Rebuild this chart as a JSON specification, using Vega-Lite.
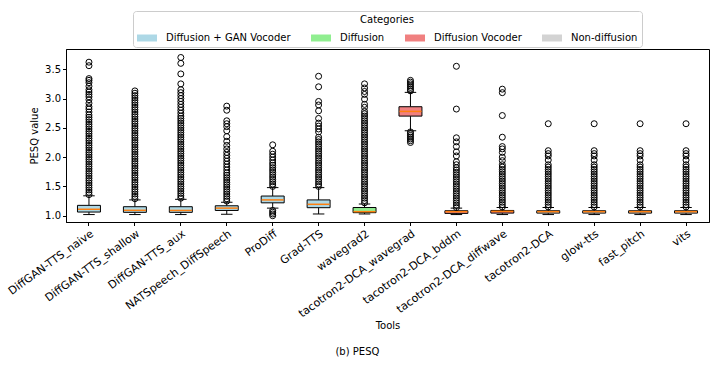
{
  "$schema": "https://vega.github.io/schema/vega-lite/v6.json",
  "autosize": {"type": "none"},
  "width": 643,
  "height": 173,
  "padding": {"left": 66, "top": 49, "right": 11, "bottom": 154},
  "title": {"text": "(b) PESQ", "orient": "bottom", "anchor": "middle", "frame": "bounds", "fontSize": 10, "fontWeight": "normal", "offset": 16, "color": "black"},
  "config": {
    "font": "DejaVu Sans",
    "view": {"stroke": "black", "strokeWidth": 1},
    "axis": {"domainColor": "black", "tickColor": "black", "labelColor": "black", "titleColor": "black", "labelFontSize": 10, "titleFontSize": 10, "titleFontWeight": "normal", "grid": false, "tickSize": 3.5, "labelPadding": 2, "labelOverlap": false}
  },
  "datasets": {
    "boxes": [
      {"tool": "DiffGAN-TTS_naive", "cat": "Diffusion + GAN Vocoder", "lo": 1.02, "q1": 1.063, "med": 1.11, "q3": 1.177, "hi": 1.34},
      {"tool": "DiffGAN-TTS_shallow", "cat": "Diffusion + GAN Vocoder", "lo": 1.02, "q1": 1.058, "med": 1.092, "q3": 1.154, "hi": 1.27},
      {"tool": "DiffGAN-TTS_aux", "cat": "Diffusion + GAN Vocoder", "lo": 1.02, "q1": 1.058, "med": 1.09, "q3": 1.154, "hi": 1.28},
      {"tool": "NATSpeech_DiffSpeech", "cat": "Diffusion + GAN Vocoder", "lo": 1.025, "q1": 1.09, "med": 1.13, "q3": 1.17, "hi": 1.23},
      {"tool": "ProDiff", "cat": "Diffusion + GAN Vocoder", "lo": 1.13, "q1": 1.22, "med": 1.27, "q3": 1.336, "hi": 1.48},
      {"tool": "Grad-TTS", "cat": "Diffusion + GAN Vocoder", "lo": 1.03, "q1": 1.137, "med": 1.195, "q3": 1.27, "hi": 1.48},
      {"tool": "wavegrad2", "cat": "Diffusion", "lo": 1.03, "q1": 1.052, "med": 1.07, "q3": 1.14, "hi": 1.2},
      {"tool": "tacotron2-DCA_wavegrad", "cat": "Diffusion Vocoder", "lo": 2.45, "q1": 2.7, "med": 2.78, "q3": 2.86, "hi": 3.105},
      {"tool": "tacotron2-DCA_bddm", "cat": "Diffusion Vocoder", "lo": 1.02, "q1": 1.04, "med": 1.07, "q3": 1.085, "hi": 1.13},
      {"tool": "tacotron2-DCA_diffwave", "cat": "Diffusion Vocoder", "lo": 1.02, "q1": 1.045, "med": 1.075, "q3": 1.09, "hi": 1.14},
      {"tool": "tacotron2-DCA", "cat": "Non-diffusion", "lo": 1.02, "q1": 1.045, "med": 1.07, "q3": 1.085, "hi": 1.14},
      {"tool": "glow-tts", "cat": "Non-diffusion", "lo": 1.02, "q1": 1.045, "med": 1.07, "q3": 1.085, "hi": 1.14},
      {"tool": "fast_pitch", "cat": "Non-diffusion", "lo": 1.02, "q1": 1.045, "med": 1.07, "q3": 1.085, "hi": 1.14},
      {"tool": "vits", "cat": "Non-diffusion", "lo": 1.02, "q1": 1.045, "med": 1.07, "q3": 1.085, "hi": 1.14}
    ],
    "outliers": [
      {"tool": "DiffGAN-TTS_naive", "v": 1.36}, {"tool": "DiffGAN-TTS_naive", "v": 1.40}, {"tool": "DiffGAN-TTS_naive", "v": 1.44}, {"tool": "DiffGAN-TTS_naive", "v": 1.48}, {"tool": "DiffGAN-TTS_naive", "v": 1.52}, {"tool": "DiffGAN-TTS_naive", "v": 1.56}, {"tool": "DiffGAN-TTS_naive", "v": 1.60}, {"tool": "DiffGAN-TTS_naive", "v": 1.64}, {"tool": "DiffGAN-TTS_naive", "v": 1.68}, {"tool": "DiffGAN-TTS_naive", "v": 1.72}, {"tool": "DiffGAN-TTS_naive", "v": 1.76}, {"tool": "DiffGAN-TTS_naive", "v": 1.80}, {"tool": "DiffGAN-TTS_naive", "v": 1.84}, {"tool": "DiffGAN-TTS_naive", "v": 1.88}, {"tool": "DiffGAN-TTS_naive", "v": 1.92}, {"tool": "DiffGAN-TTS_naive", "v": 1.96}, {"tool": "DiffGAN-TTS_naive", "v": 2.00}, {"tool": "DiffGAN-TTS_naive", "v": 2.04}, {"tool": "DiffGAN-TTS_naive", "v": 2.08}, {"tool": "DiffGAN-TTS_naive", "v": 2.12}, {"tool": "DiffGAN-TTS_naive", "v": 2.16}, {"tool": "DiffGAN-TTS_naive", "v": 2.20}, {"tool": "DiffGAN-TTS_naive", "v": 2.24}, {"tool": "DiffGAN-TTS_naive", "v": 2.28}, {"tool": "DiffGAN-TTS_naive", "v": 2.32}, {"tool": "DiffGAN-TTS_naive", "v": 2.36}, {"tool": "DiffGAN-TTS_naive", "v": 2.40}, {"tool": "DiffGAN-TTS_naive", "v": 2.44}, {"tool": "DiffGAN-TTS_naive", "v": 2.48}, {"tool": "DiffGAN-TTS_naive", "v": 2.52}, {"tool": "DiffGAN-TTS_naive", "v": 2.56}, {"tool": "DiffGAN-TTS_naive", "v": 2.60}, {"tool": "DiffGAN-TTS_naive", "v": 2.64}, {"tool": "DiffGAN-TTS_naive", "v": 2.68},
      {"tool": "DiffGAN-TTS_naive", "v": 2.72}, {"tool": "DiffGAN-TTS_naive", "v": 2.77}, {"tool": "DiffGAN-TTS_naive", "v": 2.82}, {"tool": "DiffGAN-TTS_naive", "v": 2.86}, {"tool": "DiffGAN-TTS_naive", "v": 2.92}, {"tool": "DiffGAN-TTS_naive", "v": 2.98}, {"tool": "DiffGAN-TTS_naive", "v": 3.03}, {"tool": "DiffGAN-TTS_naive", "v": 3.07}, {"tool": "DiffGAN-TTS_naive", "v": 3.11}, {"tool": "DiffGAN-TTS_naive", "v": 3.15}, {"tool": "DiffGAN-TTS_naive", "v": 3.21}, {"tool": "DiffGAN-TTS_naive", "v": 3.27}, {"tool": "DiffGAN-TTS_naive", "v": 3.31}, {"tool": "DiffGAN-TTS_naive", "v": 3.34}, {"tool": "DiffGAN-TTS_naive", "v": 3.56}, {"tool": "DiffGAN-TTS_naive", "v": 3.62},

      {"tool": "DiffGAN-TTS_shallow", "v": 1.29}, {"tool": "DiffGAN-TTS_shallow", "v": 1.33}, {"tool": "DiffGAN-TTS_shallow", "v": 1.37}, {"tool": "DiffGAN-TTS_shallow", "v": 1.41}, {"tool": "DiffGAN-TTS_shallow", "v": 1.45}, {"tool": "DiffGAN-TTS_shallow", "v": 1.49}, {"tool": "DiffGAN-TTS_shallow", "v": 1.53}, {"tool": "DiffGAN-TTS_shallow", "v": 1.57}, {"tool": "DiffGAN-TTS_shallow", "v": 1.61}, {"tool": "DiffGAN-TTS_shallow", "v": 1.65}, {"tool": "DiffGAN-TTS_shallow", "v": 1.69}, {"tool": "DiffGAN-TTS_shallow", "v": 1.73}, {"tool": "DiffGAN-TTS_shallow", "v": 1.77}, {"tool": "DiffGAN-TTS_shallow", "v": 1.81}, {"tool": "DiffGAN-TTS_shallow", "v": 1.85}, {"tool": "DiffGAN-TTS_shallow", "v": 1.89}, {"tool": "DiffGAN-TTS_shallow", "v": 1.93}, {"tool": "DiffGAN-TTS_shallow", "v": 1.97}, {"tool": "DiffGAN-TTS_shallow", "v": 2.01}, {"tool": "DiffGAN-TTS_shallow", "v": 2.05}, {"tool": "DiffGAN-TTS_shallow", "v": 2.09}, {"tool": "DiffGAN-TTS_shallow", "v": 2.13}, {"tool": "DiffGAN-TTS_shallow", "v": 2.17}, {"tool": "DiffGAN-TTS_shallow", "v": 2.21}, {"tool": "DiffGAN-TTS_shallow", "v": 2.25}, {"tool": "DiffGAN-TTS_shallow", "v": 2.29}, {"tool": "DiffGAN-TTS_shallow", "v": 2.33}, {"tool": "DiffGAN-TTS_shallow", "v": 2.37}, {"tool": "DiffGAN-TTS_shallow", "v": 2.41}, {"tool": "DiffGAN-TTS_shallow", "v": 2.45}, {"tool": "DiffGAN-TTS_shallow", "v": 2.49}, {"tool": "DiffGAN-TTS_shallow", "v": 2.53}, {"tool": "DiffGAN-TTS_shallow", "v": 2.57}, {"tool": "DiffGAN-TTS_shallow", "v": 2.61}, {"tool": "DiffGAN-TTS_shallow", "v": 2.65}, {"tool": "DiffGAN-TTS_shallow", "v": 2.69}, {"tool": "DiffGAN-TTS_shallow", "v": 2.73}, {"tool": "DiffGAN-TTS_shallow", "v": 2.77}, {"tool": "DiffGAN-TTS_shallow", "v": 2.81}, {"tool": "DiffGAN-TTS_shallow", "v": 2.85}, {"tool": "DiffGAN-TTS_shallow", "v": 2.89}, {"tool": "DiffGAN-TTS_shallow", "v": 2.93}, {"tool": "DiffGAN-TTS_shallow", "v": 2.97}, {"tool": "DiffGAN-TTS_shallow", "v": 3.01}, {"tool": "DiffGAN-TTS_shallow", "v": 3.05}, {"tool": "DiffGAN-TTS_shallow", "v": 3.09}, {"tool": "DiffGAN-TTS_shallow", "v": 3.13},

      {"tool": "DiffGAN-TTS_aux", "v": 1.30}, {"tool": "DiffGAN-TTS_aux", "v": 1.34}, {"tool": "DiffGAN-TTS_aux", "v": 1.38}, {"tool": "DiffGAN-TTS_aux", "v": 1.42}, {"tool": "DiffGAN-TTS_aux", "v": 1.46}, {"tool": "DiffGAN-TTS_aux", "v": 1.50}, {"tool": "DiffGAN-TTS_aux", "v": 1.54}, {"tool": "DiffGAN-TTS_aux", "v": 1.58}, {"tool": "DiffGAN-TTS_aux", "v": 1.62}, {"tool": "DiffGAN-TTS_aux", "v": 1.66}, {"tool": "DiffGAN-TTS_aux", "v": 1.70}, {"tool": "DiffGAN-TTS_aux", "v": 1.74}, {"tool": "DiffGAN-TTS_aux", "v": 1.78}, {"tool": "DiffGAN-TTS_aux", "v": 1.82}, {"tool": "DiffGAN-TTS_aux", "v": 1.86}, {"tool": "DiffGAN-TTS_aux", "v": 1.90}, {"tool": "DiffGAN-TTS_aux", "v": 1.94}, {"tool": "DiffGAN-TTS_aux", "v": 1.98}, {"tool": "DiffGAN-TTS_aux", "v": 2.02}, {"tool": "DiffGAN-TTS_aux", "v": 2.06}, {"tool": "DiffGAN-TTS_aux", "v": 2.10}, {"tool": "DiffGAN-TTS_aux", "v": 2.14}, {"tool": "DiffGAN-TTS_aux", "v": 2.18}, {"tool": "DiffGAN-TTS_aux", "v": 2.22}, {"tool": "DiffGAN-TTS_aux", "v": 2.26}, {"tool": "DiffGAN-TTS_aux", "v": 2.30}, {"tool": "DiffGAN-TTS_aux", "v": 2.34}, {"tool": "DiffGAN-TTS_aux", "v": 2.38}, {"tool": "DiffGAN-TTS_aux", "v": 2.42}, {"tool": "DiffGAN-TTS_aux", "v": 2.46}, {"tool": "DiffGAN-TTS_aux", "v": 2.50}, {"tool": "DiffGAN-TTS_aux", "v": 2.54}, {"tool": "DiffGAN-TTS_aux", "v": 2.58}, {"tool": "DiffGAN-TTS_aux", "v": 2.62},
      {"tool": "DiffGAN-TTS_aux", "v": 2.66}, {"tool": "DiffGAN-TTS_aux", "v": 2.70}, {"tool": "DiffGAN-TTS_aux", "v": 2.75}, {"tool": "DiffGAN-TTS_aux", "v": 2.80}, {"tool": "DiffGAN-TTS_aux", "v": 2.85}, {"tool": "DiffGAN-TTS_aux", "v": 2.90}, {"tool": "DiffGAN-TTS_aux", "v": 2.95}, {"tool": "DiffGAN-TTS_aux", "v": 3.00}, {"tool": "DiffGAN-TTS_aux", "v": 3.05}, {"tool": "DiffGAN-TTS_aux", "v": 3.10}, {"tool": "DiffGAN-TTS_aux", "v": 3.15}, {"tool": "DiffGAN-TTS_aux", "v": 3.25}, {"tool": "DiffGAN-TTS_aux", "v": 3.42}, {"tool": "DiffGAN-TTS_aux", "v": 3.60}, {"tool": "DiffGAN-TTS_aux", "v": 3.70},

      {"tool": "NATSpeech_DiffSpeech", "v": 1.25}, {"tool": "NATSpeech_DiffSpeech", "v": 1.29}, {"tool": "NATSpeech_DiffSpeech", "v": 1.33}, {"tool": "NATSpeech_DiffSpeech", "v": 1.37}, {"tool": "NATSpeech_DiffSpeech", "v": 1.41}, {"tool": "NATSpeech_DiffSpeech", "v": 1.45}, {"tool": "NATSpeech_DiffSpeech", "v": 1.49}, {"tool": "NATSpeech_DiffSpeech", "v": 1.53}, {"tool": "NATSpeech_DiffSpeech", "v": 1.57}, {"tool": "NATSpeech_DiffSpeech", "v": 1.61}, {"tool": "NATSpeech_DiffSpeech", "v": 1.65}, {"tool": "NATSpeech_DiffSpeech", "v": 1.69}, {"tool": "NATSpeech_DiffSpeech", "v": 1.73}, {"tool": "NATSpeech_DiffSpeech", "v": 1.78}, {"tool": "NATSpeech_DiffSpeech", "v": 1.83}, {"tool": "NATSpeech_DiffSpeech", "v": 1.88}, {"tool": "NATSpeech_DiffSpeech", "v": 1.93}, {"tool": "NATSpeech_DiffSpeech", "v": 1.98}, {"tool": "NATSpeech_DiffSpeech", "v": 2.03}, {"tool": "NATSpeech_DiffSpeech", "v": 2.08}, {"tool": "NATSpeech_DiffSpeech", "v": 2.14}, {"tool": "NATSpeech_DiffSpeech", "v": 2.20}, {"tool": "NATSpeech_DiffSpeech", "v": 2.27}, {"tool": "NATSpeech_DiffSpeech", "v": 2.35}, {"tool": "NATSpeech_DiffSpeech", "v": 2.45}, {"tool": "NATSpeech_DiffSpeech", "v": 2.52}, {"tool": "NATSpeech_DiffSpeech", "v": 2.57}, {"tool": "NATSpeech_DiffSpeech", "v": 2.62}, {"tool": "NATSpeech_DiffSpeech", "v": 2.80}, {"tool": "NATSpeech_DiffSpeech", "v": 2.87},

      {"tool": "ProDiff", "v": 1.00}, {"tool": "ProDiff", "v": 1.03}, {"tool": "ProDiff", "v": 1.06}, {"tool": "ProDiff", "v": 1.09},
      {"tool": "ProDiff", "v": 1.50}, {"tool": "ProDiff", "v": 1.54}, {"tool": "ProDiff", "v": 1.58}, {"tool": "ProDiff", "v": 1.62}, {"tool": "ProDiff", "v": 1.66}, {"tool": "ProDiff", "v": 1.70}, {"tool": "ProDiff", "v": 1.74}, {"tool": "ProDiff", "v": 1.78}, {"tool": "ProDiff", "v": 1.82}, {"tool": "ProDiff", "v": 1.86}, {"tool": "ProDiff", "v": 1.90}, {"tool": "ProDiff", "v": 1.95}, {"tool": "ProDiff", "v": 2.00}, {"tool": "ProDiff", "v": 2.05}, {"tool": "ProDiff", "v": 2.10}, {"tool": "ProDiff", "v": 2.21},

      {"tool": "Grad-TTS", "v": 1.50}, {"tool": "Grad-TTS", "v": 1.54}, {"tool": "Grad-TTS", "v": 1.58}, {"tool": "Grad-TTS", "v": 1.62}, {"tool": "Grad-TTS", "v": 1.66}, {"tool": "Grad-TTS", "v": 1.70}, {"tool": "Grad-TTS", "v": 1.74}, {"tool": "Grad-TTS", "v": 1.78}, {"tool": "Grad-TTS", "v": 1.82}, {"tool": "Grad-TTS", "v": 1.86}, {"tool": "Grad-TTS", "v": 1.90}, {"tool": "Grad-TTS", "v": 1.94}, {"tool": "Grad-TTS", "v": 1.98}, {"tool": "Grad-TTS", "v": 2.02}, {"tool": "Grad-TTS", "v": 2.06}, {"tool": "Grad-TTS", "v": 2.10}, {"tool": "Grad-TTS", "v": 2.14}, {"tool": "Grad-TTS", "v": 2.18}, {"tool": "Grad-TTS", "v": 2.22}, {"tool": "Grad-TTS", "v": 2.26}, {"tool": "Grad-TTS", "v": 2.30}, {"tool": "Grad-TTS", "v": 2.34}, {"tool": "Grad-TTS", "v": 2.43}, {"tool": "Grad-TTS", "v": 2.48}, {"tool": "Grad-TTS", "v": 2.53}, {"tool": "Grad-TTS", "v": 2.58}, {"tool": "Grad-TTS", "v": 2.66}, {"tool": "Grad-TTS", "v": 2.79}, {"tool": "Grad-TTS", "v": 2.89}, {"tool": "Grad-TTS", "v": 2.95}, {"tool": "Grad-TTS", "v": 3.20}, {"tool": "Grad-TTS", "v": 3.38},

      {"tool": "wavegrad2", "v": 1.22}, {"tool": "wavegrad2", "v": 1.26}, {"tool": "wavegrad2", "v": 1.30}, {"tool": "wavegrad2", "v": 1.34}, {"tool": "wavegrad2", "v": 1.38}, {"tool": "wavegrad2", "v": 1.42}, {"tool": "wavegrad2", "v": 1.46}, {"tool": "wavegrad2", "v": 1.50}, {"tool": "wavegrad2", "v": 1.54}, {"tool": "wavegrad2", "v": 1.58}, {"tool": "wavegrad2", "v": 1.62}, {"tool": "wavegrad2", "v": 1.66}, {"tool": "wavegrad2", "v": 1.70}, {"tool": "wavegrad2", "v": 1.74}, {"tool": "wavegrad2", "v": 1.78}, {"tool": "wavegrad2", "v": 1.82}, {"tool": "wavegrad2", "v": 1.86}, {"tool": "wavegrad2", "v": 1.90}, {"tool": "wavegrad2", "v": 1.94}, {"tool": "wavegrad2", "v": 1.98}, {"tool": "wavegrad2", "v": 2.02}, {"tool": "wavegrad2", "v": 2.06}, {"tool": "wavegrad2", "v": 2.10}, {"tool": "wavegrad2", "v": 2.14}, {"tool": "wavegrad2", "v": 2.18}, {"tool": "wavegrad2", "v": 2.22}, {"tool": "wavegrad2", "v": 2.26}, {"tool": "wavegrad2", "v": 2.30}, {"tool": "wavegrad2", "v": 2.34}, {"tool": "wavegrad2", "v": 2.38}, {"tool": "wavegrad2", "v": 2.42}, {"tool": "wavegrad2", "v": 2.46}, {"tool": "wavegrad2", "v": 2.50}, {"tool": "wavegrad2", "v": 2.54}, {"tool": "wavegrad2", "v": 2.58}, {"tool": "wavegrad2", "v": 2.62}, {"tool": "wavegrad2", "v": 2.66}, {"tool": "wavegrad2", "v": 2.70}, {"tool": "wavegrad2", "v": 2.74}, {"tool": "wavegrad2", "v": 2.78}, {"tool": "wavegrad2", "v": 2.85}, {"tool": "wavegrad2", "v": 2.90}, {"tool": "wavegrad2", "v": 2.99}, {"tool": "wavegrad2", "v": 3.07}, {"tool": "wavegrad2", "v": 3.12}, {"tool": "wavegrad2", "v": 3.18}, {"tool": "wavegrad2", "v": 3.25},

      {"tool": "tacotron2-DCA_wavegrad", "v": 2.25}, {"tool": "tacotron2-DCA_wavegrad", "v": 2.28}, {"tool": "tacotron2-DCA_wavegrad", "v": 2.31}, {"tool": "tacotron2-DCA_wavegrad", "v": 2.34}, {"tool": "tacotron2-DCA_wavegrad", "v": 2.37}, {"tool": "tacotron2-DCA_wavegrad", "v": 2.40}, {"tool": "tacotron2-DCA_wavegrad", "v": 2.43}, {"tool": "tacotron2-DCA_wavegrad", "v": 3.13}, {"tool": "tacotron2-DCA_wavegrad", "v": 3.16}, {"tool": "tacotron2-DCA_wavegrad", "v": 3.19}, {"tool": "tacotron2-DCA_wavegrad", "v": 3.22}, {"tool": "tacotron2-DCA_wavegrad", "v": 3.25}, {"tool": "tacotron2-DCA_wavegrad", "v": 3.28}, {"tool": "tacotron2-DCA_wavegrad", "v": 3.31},

      {"tool": "tacotron2-DCA_bddm", "v": 1.14}, {"tool": "tacotron2-DCA_bddm", "v": 1.18}, {"tool": "tacotron2-DCA_bddm", "v": 1.22}, {"tool": "tacotron2-DCA_bddm", "v": 1.26}, {"tool": "tacotron2-DCA_bddm", "v": 1.30}, {"tool": "tacotron2-DCA_bddm", "v": 1.34}, {"tool": "tacotron2-DCA_bddm", "v": 1.38}, {"tool": "tacotron2-DCA_bddm", "v": 1.42}, {"tool": "tacotron2-DCA_bddm", "v": 1.46}, {"tool": "tacotron2-DCA_bddm", "v": 1.50}, {"tool": "tacotron2-DCA_bddm", "v": 1.54}, {"tool": "tacotron2-DCA_bddm", "v": 1.58}, {"tool": "tacotron2-DCA_bddm", "v": 1.62}, {"tool": "tacotron2-DCA_bddm", "v": 1.66}, {"tool": "tacotron2-DCA_bddm", "v": 1.70}, {"tool": "tacotron2-DCA_bddm", "v": 1.74}, {"tool": "tacotron2-DCA_bddm", "v": 1.78}, {"tool": "tacotron2-DCA_bddm", "v": 1.82}, {"tool": "tacotron2-DCA_bddm", "v": 1.87}, {"tool": "tacotron2-DCA_bddm", "v": 1.92}, {"tool": "tacotron2-DCA_bddm", "v": 2.02}, {"tool": "tacotron2-DCA_bddm", "v": 2.09}, {"tool": "tacotron2-DCA_bddm", "v": 2.18}, {"tool": "tacotron2-DCA_bddm", "v": 2.26}, {"tool": "tacotron2-DCA_bddm", "v": 2.33}, {"tool": "tacotron2-DCA_bddm", "v": 2.82}, {"tool": "tacotron2-DCA_bddm", "v": 3.55},

      {"tool": "tacotron2-DCA_diffwave", "v": 1.15}, {"tool": "tacotron2-DCA_diffwave", "v": 1.19}, {"tool": "tacotron2-DCA_diffwave", "v": 1.23}, {"tool": "tacotron2-DCA_diffwave", "v": 1.27}, {"tool": "tacotron2-DCA_diffwave", "v": 1.31}, {"tool": "tacotron2-DCA_diffwave", "v": 1.35}, {"tool": "tacotron2-DCA_diffwave", "v": 1.39}, {"tool": "tacotron2-DCA_diffwave", "v": 1.43}, {"tool": "tacotron2-DCA_diffwave", "v": 1.47}, {"tool": "tacotron2-DCA_diffwave", "v": 1.51}, {"tool": "tacotron2-DCA_diffwave", "v": 1.55}, {"tool": "tacotron2-DCA_diffwave", "v": 1.59}, {"tool": "tacotron2-DCA_diffwave", "v": 1.63}, {"tool": "tacotron2-DCA_diffwave", "v": 1.67}, {"tool": "tacotron2-DCA_diffwave", "v": 1.71}, {"tool": "tacotron2-DCA_diffwave", "v": 1.75}, {"tool": "tacotron2-DCA_diffwave", "v": 1.79}, {"tool": "tacotron2-DCA_diffwave", "v": 1.83}, {"tool": "tacotron2-DCA_diffwave", "v": 1.87}, {"tool": "tacotron2-DCA_diffwave", "v": 1.94}, {"tool": "tacotron2-DCA_diffwave", "v": 2.00}, {"tool": "tacotron2-DCA_diffwave", "v": 2.08}, {"tool": "tacotron2-DCA_diffwave", "v": 2.14}, {"tool": "tacotron2-DCA_diffwave", "v": 2.18}, {"tool": "tacotron2-DCA_diffwave", "v": 2.34}, {"tool": "tacotron2-DCA_diffwave", "v": 2.71}, {"tool": "tacotron2-DCA_diffwave", "v": 3.10}, {"tool": "tacotron2-DCA_diffwave", "v": 3.16},

      {"tool": "tacotron2-DCA", "v": 1.15}, {"tool": "tacotron2-DCA", "v": 1.19}, {"tool": "tacotron2-DCA", "v": 1.23}, {"tool": "tacotron2-DCA", "v": 1.27}, {"tool": "tacotron2-DCA", "v": 1.31}, {"tool": "tacotron2-DCA", "v": 1.35}, {"tool": "tacotron2-DCA", "v": 1.39}, {"tool": "tacotron2-DCA", "v": 1.43}, {"tool": "tacotron2-DCA", "v": 1.47}, {"tool": "tacotron2-DCA", "v": 1.51}, {"tool": "tacotron2-DCA", "v": 1.55}, {"tool": "tacotron2-DCA", "v": 1.59}, {"tool": "tacotron2-DCA", "v": 1.63}, {"tool": "tacotron2-DCA", "v": 1.67}, {"tool": "tacotron2-DCA", "v": 1.71}, {"tool": "tacotron2-DCA", "v": 1.75}, {"tool": "tacotron2-DCA", "v": 1.79}, {"tool": "tacotron2-DCA", "v": 1.83}, {"tool": "tacotron2-DCA", "v": 1.87}, {"tool": "tacotron2-DCA", "v": 1.95}, {"tool": "tacotron2-DCA", "v": 2.02}, {"tool": "tacotron2-DCA", "v": 2.06}, {"tool": "tacotron2-DCA", "v": 2.11}, {"tool": "tacotron2-DCA", "v": 2.57},

      {"tool": "glow-tts", "v": 1.15}, {"tool": "glow-tts", "v": 1.19}, {"tool": "glow-tts", "v": 1.23}, {"tool": "glow-tts", "v": 1.27}, {"tool": "glow-tts", "v": 1.31}, {"tool": "glow-tts", "v": 1.35}, {"tool": "glow-tts", "v": 1.39}, {"tool": "glow-tts", "v": 1.43}, {"tool": "glow-tts", "v": 1.47}, {"tool": "glow-tts", "v": 1.51}, {"tool": "glow-tts", "v": 1.55}, {"tool": "glow-tts", "v": 1.59}, {"tool": "glow-tts", "v": 1.63}, {"tool": "glow-tts", "v": 1.67}, {"tool": "glow-tts", "v": 1.71}, {"tool": "glow-tts", "v": 1.75}, {"tool": "glow-tts", "v": 1.79}, {"tool": "glow-tts", "v": 1.83}, {"tool": "glow-tts", "v": 1.87}, {"tool": "glow-tts", "v": 1.95}, {"tool": "glow-tts", "v": 2.02}, {"tool": "glow-tts", "v": 2.06}, {"tool": "glow-tts", "v": 2.11}, {"tool": "glow-tts", "v": 2.57},

      {"tool": "fast_pitch", "v": 1.15}, {"tool": "fast_pitch", "v": 1.19}, {"tool": "fast_pitch", "v": 1.23}, {"tool": "fast_pitch", "v": 1.27}, {"tool": "fast_pitch", "v": 1.31}, {"tool": "fast_pitch", "v": 1.35}, {"tool": "fast_pitch", "v": 1.39}, {"tool": "fast_pitch", "v": 1.43}, {"tool": "fast_pitch", "v": 1.47}, {"tool": "fast_pitch", "v": 1.51}, {"tool": "fast_pitch", "v": 1.55}, {"tool": "fast_pitch", "v": 1.59}, {"tool": "fast_pitch", "v": 1.63}, {"tool": "fast_pitch", "v": 1.67}, {"tool": "fast_pitch", "v": 1.71}, {"tool": "fast_pitch", "v": 1.75}, {"tool": "fast_pitch", "v": 1.79}, {"tool": "fast_pitch", "v": 1.83}, {"tool": "fast_pitch", "v": 1.87}, {"tool": "fast_pitch", "v": 1.95}, {"tool": "fast_pitch", "v": 2.02}, {"tool": "fast_pitch", "v": 2.06}, {"tool": "fast_pitch", "v": 2.11}, {"tool": "fast_pitch", "v": 2.57},

      {"tool": "vits", "v": 1.15}, {"tool": "vits", "v": 1.19}, {"tool": "vits", "v": 1.23}, {"tool": "vits", "v": 1.27}, {"tool": "vits", "v": 1.31}, {"tool": "vits", "v": 1.35}, {"tool": "vits", "v": 1.39}, {"tool": "vits", "v": 1.43}, {"tool": "vits", "v": 1.47}, {"tool": "vits", "v": 1.51}, {"tool": "vits", "v": 1.55}, {"tool": "vits", "v": 1.59}, {"tool": "vits", "v": 1.63}, {"tool": "vits", "v": 1.67}, {"tool": "vits", "v": 1.71}, {"tool": "vits", "v": 1.75}, {"tool": "vits", "v": 1.79}, {"tool": "vits", "v": 1.83}, {"tool": "vits", "v": 1.87}, {"tool": "vits", "v": 1.95}, {"tool": "vits", "v": 2.02}, {"tool": "vits", "v": 2.06}, {"tool": "vits", "v": 2.11}, {"tool": "vits", "v": 2.57}
    ]
  },
  "encoding": {
    "x": {
      "field": "tool", "type": "nominal",
      "sort": ["DiffGAN-TTS_naive", "DiffGAN-TTS_shallow", "DiffGAN-TTS_aux", "NATSpeech_DiffSpeech", "ProDiff", "Grad-TTS", "wavegrad2", "tacotron2-DCA_wavegrad", "tacotron2-DCA_bddm", "tacotron2-DCA_diffwave", "tacotron2-DCA", "glow-tts", "fast_pitch", "vits"],
      "scale": {"paddingInner": 0, "paddingOuter": 0},
      "axis": {"title": "Tools", "labelAngle": -36, "labelAlign": "right", "labelBaseline": "top", "labelFontSize": 11, "titlePadding": 2}
    }
  },
  "layer": [
    {
      "data": {"name": "boxes"},
      "mark": {"type": "rule", "color": "black", "strokeWidth": 1},
      "encoding": {
        "y": {"field": "lo", "type": "quantitative", "scale": {"domain": [0.893, 3.845], "nice": false, "zero": false}, "axis": {"title": "PESQ value", "values": [1, 1.5, 2, 2.5, 3, 3.5], "format": ".1f", "titlePadding": 5, "labelOverlap": false}},
        "y2": {"field": "q1"}
      }
    },
    {
      "data": {"name": "boxes"},
      "mark": {"type": "rule", "color": "black", "strokeWidth": 1},
      "encoding": {"y": {"field": "q3", "type": "quantitative", "axis": {"title": "PESQ value", "values": [1, 1.5, 2, 2.5, 3, 3.5], "format": ".1f", "titlePadding": 5, "labelOverlap": false}}, "y2": {"field": "hi"}}
    },
    {
      "data": {"name": "boxes"},
      "mark": {"type": "bar", "width": {"band": 0.5}, "stroke": "black", "strokeWidth": 1},
      "encoding": {
        "y": {"field": "q1", "type": "quantitative", "axis": {"title": "PESQ value", "values": [1, 1.5, 2, 2.5, 3, 3.5], "format": ".1f", "titlePadding": 5, "labelOverlap": false}},
        "y2": {"field": "q3"},
        "color": {
          "field": "cat", "type": "nominal",
          "scale": {"domain": ["Diffusion + GAN Vocoder", "Diffusion", "Diffusion Vocoder", "Non-diffusion"], "range": ["#add8e6", "#90ee90", "#f08080", "#d3d3d3"]},
          "legend": {
            "title": "Categories", "orient": "none", "legendX": 67, "legendY": -38, "direction": "horizontal", "columns": 4,
            "titleAnchor": "middle", "titleFontSize": 10, "titleFontWeight": "normal", "titleColor": "black", "titlePadding": 3,
            "labelFontSize": 10, "labelColor": "black", "labelOffset": 9, "columnPadding": 20,
            "symbolType": "M-1,-0.35L1,-0.35L1,0.35L-1,0.35Z", "symbolSize": 400, "symbolStrokeWidth": 0, "symbolOpacity": 1,
            "strokeColor": "#cccccc", "fillColor": "white", "padding": 4, "cornerRadius": 3
          }
        }
      }
    },
    {
      "data": {"name": "boxes"},
      "mark": {"type": "tick", "color": "black", "size": 11.5, "thickness": 1, "opacity": 1},
      "encoding": {"y": {"field": "lo", "type": "quantitative", "axis": {"title": "PESQ value", "values": [1, 1.5, 2, 2.5, 3, 3.5], "format": ".1f", "titlePadding": 5, "labelOverlap": false}}}
    },
    {
      "data": {"name": "boxes"},
      "mark": {"type": "tick", "color": "black", "size": 11.5, "thickness": 1, "opacity": 1},
      "encoding": {"y": {"field": "hi", "type": "quantitative", "axis": {"title": "PESQ value", "values": [1, 1.5, 2, 2.5, 3, 3.5], "format": ".1f", "titlePadding": 5, "labelOverlap": false}}}
    },
    {
      "data": {"name": "boxes"},
      "mark": {"type": "tick", "color": "#ff7f0e", "size": 22, "thickness": 1.5, "opacity": 1},
      "encoding": {"y": {"field": "med", "type": "quantitative", "axis": {"title": "PESQ value", "values": [1, 1.5, 2, 2.5, 3, 3.5], "format": ".1f", "titlePadding": 5, "labelOverlap": false}}}
    },
    {
      "data": {"name": "outliers"},
      "mark": {"type": "point", "shape": "circle", "filled": false, "stroke": "black", "strokeWidth": 1, "size": 36, "opacity": 1},
      "encoding": {"y": {"field": "v", "type": "quantitative", "axis": {"title": "PESQ value", "values": [1, 1.5, 2, 2.5, 3, 3.5], "format": ".1f", "titlePadding": 5, "labelOverlap": false}}}
    }
  ]
}
